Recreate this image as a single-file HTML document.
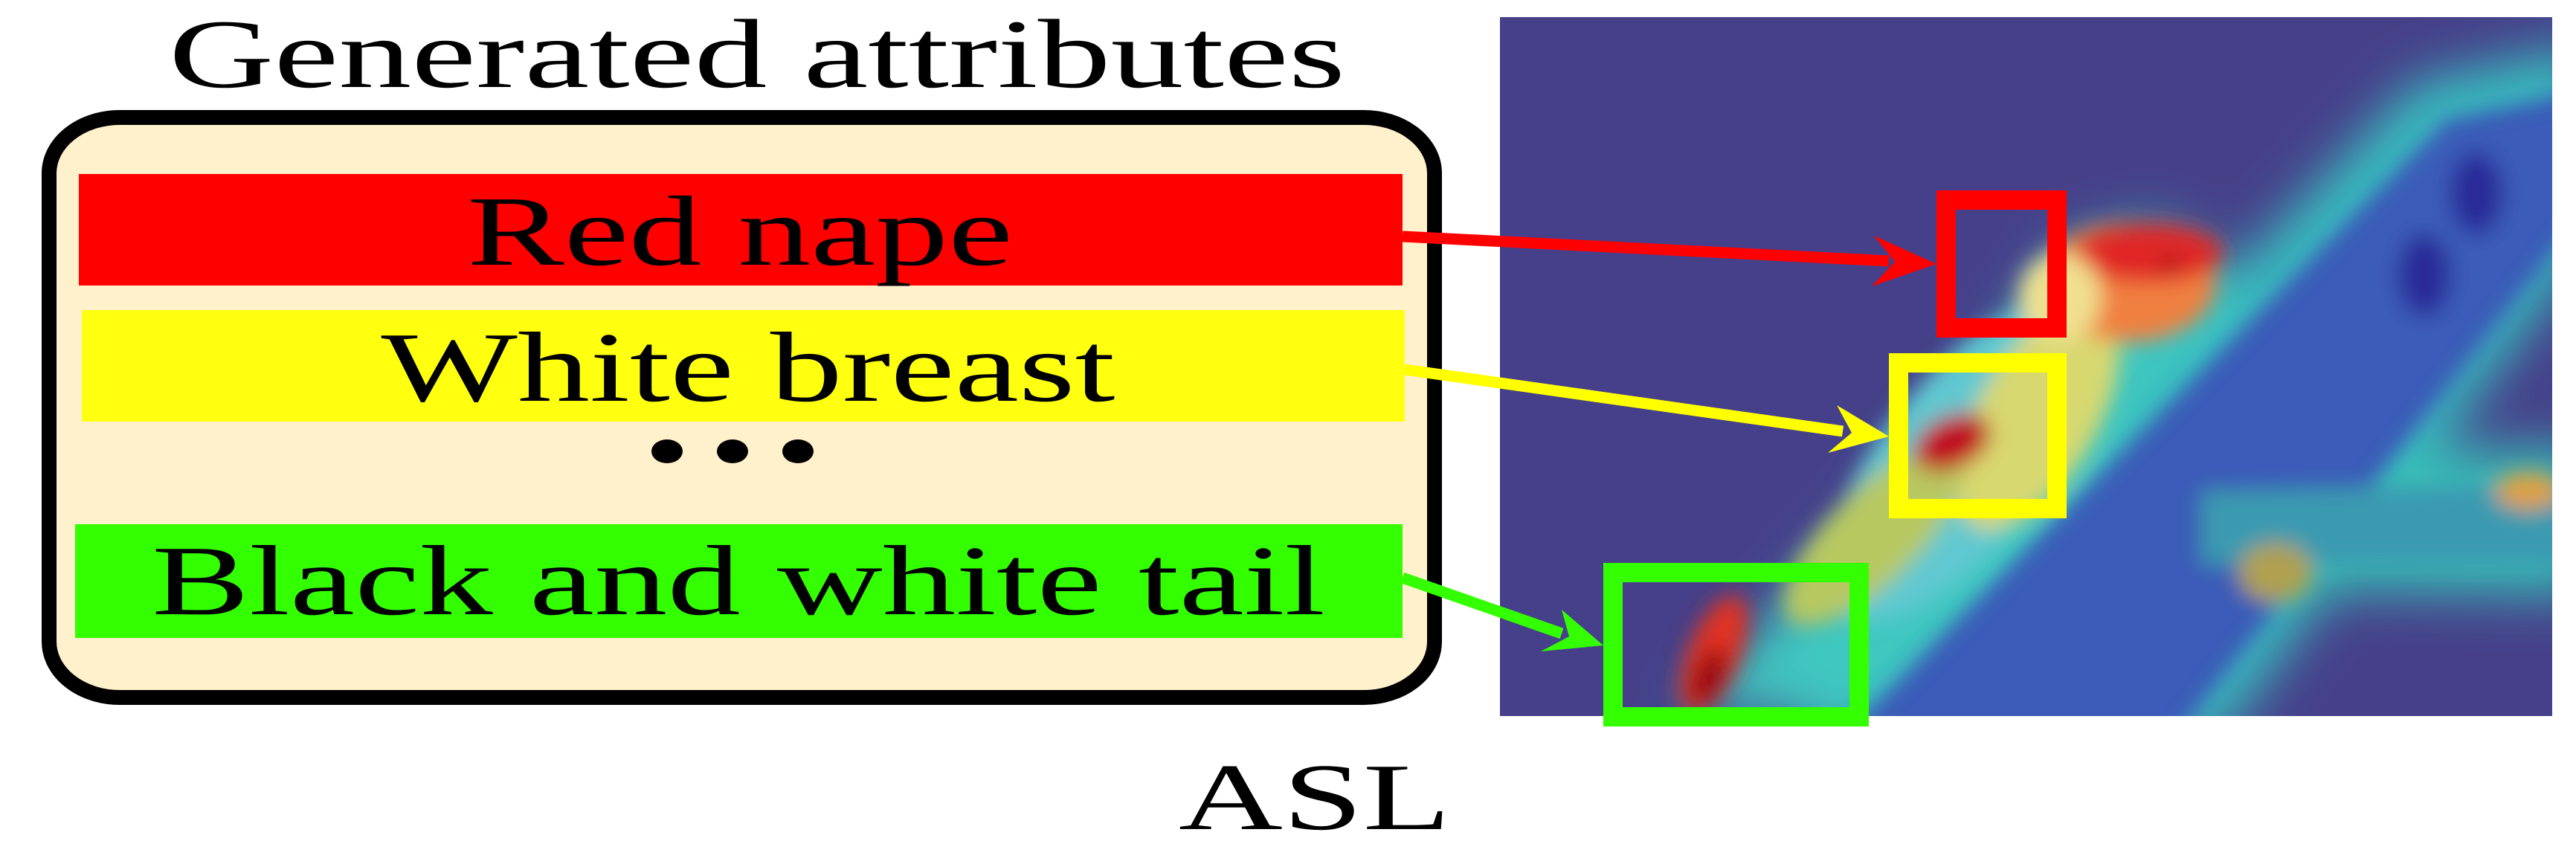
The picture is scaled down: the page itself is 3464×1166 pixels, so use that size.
<!DOCTYPE html>
<html><head><meta charset="utf-8">
<style>
html,body{margin:0;padding:0;background:#fff;}
svg{display:block;}
text{font-family:"Liberation Serif",serif;fill:#000;}
</style></head>
<body>
<svg width="3464" height="1166" viewBox="0 0 3464 1166" xmlns="http://www.w3.org/2000/svg">
<defs>
  <filter id="b1" x="-50%" y="-50%" width="200%" height="200%"><feGaussianBlur stdDeviation="35"/></filter>
  <filter id="b2" x="-50%" y="-50%" width="200%" height="200%"><feGaussianBlur stdDeviation="14"/></filter>
  <clipPath id="imgclip"><rect x="2017" y="23" width="1415" height="940"/></clipPath>
</defs>

<text x="1018" y="117" font-size="132" text-anchor="middle" textLength="1582" lengthAdjust="spacingAndGlyphs">Generated attributes</text>

<rect x="66" y="158" width="1863" height="780" rx="95" ry="75" fill="#fff1cc" stroke="#000" stroke-width="20"/>

<rect x="106" y="234" width="1780" height="150" fill="#ff0000"/>
<text x="995" y="356" font-size="134" text-anchor="middle" textLength="734" lengthAdjust="spacingAndGlyphs">Red nape</text>

<rect x="110" y="417" width="1779" height="150" fill="#ffff10"/>
<text x="1006" y="539" font-size="134" text-anchor="middle" textLength="987" lengthAdjust="spacingAndGlyphs">White breast</text>

<g fill="#000">
  <ellipse cx="897" cy="607" rx="21" ry="16"/>
  <ellipse cx="985" cy="607" rx="21" ry="16"/>
  <ellipse cx="1073" cy="607" rx="21" ry="16"/>
</g>

<rect x="101" y="705" width="1785" height="153" fill="#33ff00"/>
<text x="993" y="826" font-size="134" text-anchor="middle" textLength="1578" lengthAdjust="spacingAndGlyphs">Black and white tail</text>

<text x="1768" y="1115" font-size="128" text-anchor="middle" textLength="366" lengthAdjust="spacingAndGlyphs">ASL</text>

<!-- heatmap image -->
<g clip-path="url(#imgclip)">
  <rect x="2017" y="23" width="1415" height="940" fill="#46408a"/>
  <g filter="url(#b1)">
    <!-- main diagonal branch glow -->
    <path d="M2400,1000 L3250,110 L3480,60 L3480,330 L2980,1000 Z" fill="#38c0c0"/>
    <!-- horizontal branch glow -->
    <path d="M2900,620 L3480,600 L3480,800 L2900,790 Z" fill="#38c0b8"/>
    <!-- bird glow -->
    <path d="M2260,960 L2500,700 L2650,520 L2780,330 L2900,300 L3000,360 L2920,480 L2760,720 L2500,960 Z" fill="#40c8c0"/>
  </g>
  <g filter="url(#b2)">
    <!-- main branch body -->
    <path d="M2470,1000 L3290,160 L3480,120 L3480,280 L2920,1000 Z" fill="#3b5cb8"/>
    <path d="M2960,660 L3480,650 L3480,760 L2960,760 Z" fill="#3a9ab0"/>
    <ellipse cx="3330" cy="260" rx="35" ry="55" fill="#2a2a98"/>
    <ellipse cx="3260" cy="370" rx="35" ry="55" fill="#2a2a98"/>
    <ellipse cx="3400" cy="660" rx="45" ry="25" fill="#e0a040"/>
    <ellipse cx="3060" cy="770" rx="50" ry="40" fill="#b0a050"/>
    <!-- bird body -->
    <ellipse cx="2640" cy="620" rx="110" ry="260" fill="#60c8d0" transform="rotate(38 2640 620)"/>
    <ellipse cx="2740" cy="560" rx="80" ry="170" fill="#d8d870" transform="rotate(30 2740 560)"/>
    <ellipse cx="2520" cy="720" rx="60" ry="160" fill="#b8c860" transform="rotate(45 2520 720)"/>
    <!-- head -->
    <ellipse cx="2860" cy="380" rx="120" ry="80" fill="#f08040"/>
    <ellipse cx="2890" cy="340" rx="100" ry="40" fill="#e02828"/>
    <ellipse cx="2770" cy="400" rx="55" ry="60" fill="#f0e090"/>
    <circle cx="2918" cy="355" r="9" fill="#700010"/>
    <!-- breast hotspot -->
    <ellipse cx="2625" cy="595" rx="55" ry="35" fill="#c01020" transform="rotate(-25 2625 595)"/>
    <!-- tail hotspot -->
    <ellipse cx="2305" cy="880" rx="35" ry="85" fill="#e03020" transform="rotate(22 2305 880)"/>
    <ellipse cx="2298" cy="910" rx="18" ry="40" fill="#900010" transform="rotate(22 2298 910)"/>
  </g>
</g>

<!-- attention boxes -->
<rect x="2617" y="269" width="149" height="172" fill="none" stroke="#ff0000" stroke-width="26"/>
<rect x="2553" y="488" width="213" height="196" fill="none" stroke="#ffff00" stroke-width="26"/>
<rect x="2169" y="770" width="331" height="194" fill="none" stroke="#33ff00" stroke-width="26"/>

<!-- arrows -->
<g>
  <line x1="1886" y1="318" x2="2540" y2="351" stroke="#ff0000" stroke-width="15"/>
  <polygon points="2604,355 2520,317 2548,352 2517,385" fill="#ff0000"/>
</g>
<g>
  <line x1="1889" y1="497" x2="2478" y2="580" stroke="#ffff00" stroke-width="15"/>
  <polygon points="2540,587 2470,545 2490,582 2458,609" fill="#ffff00"/>
</g>
<g>
  <line x1="1886" y1="777" x2="2100" y2="852" stroke="#33ff00" stroke-width="15"/>
  <polygon points="2156,868 2100,820 2110,856 2072,876" fill="#33ff00"/>
</g>
</svg>
</body></html>
